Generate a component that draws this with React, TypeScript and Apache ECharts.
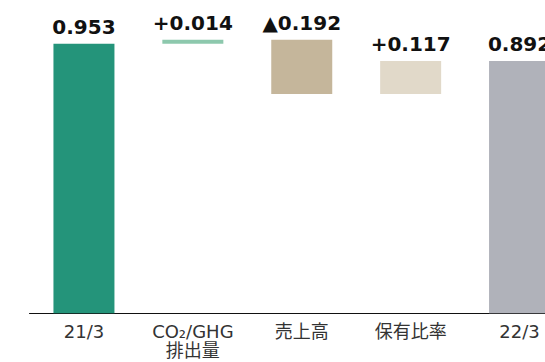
import React, { useEffect, useRef } from "react";
import * as echarts from "echarts";

const categories = ["21/3", "CO₂/GHG\n排出量", "売上高", "保有比率", "22/3"];
const baseValues = [0, 0.953, 0.775, 0.775, 0];
const barValues = [0.953, 0.014, 0.192, 0.117, 0.892];
const valueLabels = ["0.953", "+0.014", "▲0.192", "+0.117", "0.892"];
const barColors = ["#24947A", "#8DC8AD", "#C5B69B", "#E1D9C9", "#B0B2BA"];

export default function App() {
  const ref = useRef<HTMLDivElement>(null);
  useEffect(() => {
    if (!ref.current) return;
    const chart = echarts.init(ref.current, null, { renderer: "svg" });
    chart.setOption({
      animation: false,
      grid: { left: 29.5, right: 0, top: 30.4, bottom: 48.7, containLabel: false },
      xAxis: {
        type: "category",
        data: categories,
        axisLine: { lineStyle: { color: "#111", width: 1 } },
        axisTick: { show: false },
        axisLabel: {
          color: "#333",
          fontSize: 18,
          lineHeight: 19,
          margin: 9,
          fontFamily: "'DejaVu Sans', 'Noto Sans CJK JP', sans-serif",
          interval: 0,
        },
      },
      yAxis: {
        type: "value",
        min: 0,
        max: 1,
        show: false,
        splitLine: { show: false },
      },
      series: [
        {
          type: "bar",
          stack: "w",
          data: baseValues,
          itemStyle: { color: "transparent" },
          barWidth: 61,
          silent: true,
        },
        {
          type: "bar",
          stack: "w",
          barWidth: 61,
          data: barValues.map((v, i) => ({ value: v, itemStyle: { color: barColors[i] } })),
          label: {
            show: true,
            position: "top",
            distance: 7,
            formatter: (p: any) => valueLabels[p.dataIndex],
            color: "#111",
            fontSize: 20,
            fontWeight: "bold",
            fontFamily: "'DejaVu Sans', sans-serif",
          },
        },
      ],
    });
    return () => chart.dispose();
  }, []);
  return (
    <div style={{ position: "fixed", left: 0, top: 0, width: 545, height: 362, overflow: "hidden", background: "#fff" }}>
      <div ref={ref} style={{ width: 574, height: 362 }} />
    </div>
  );
}
